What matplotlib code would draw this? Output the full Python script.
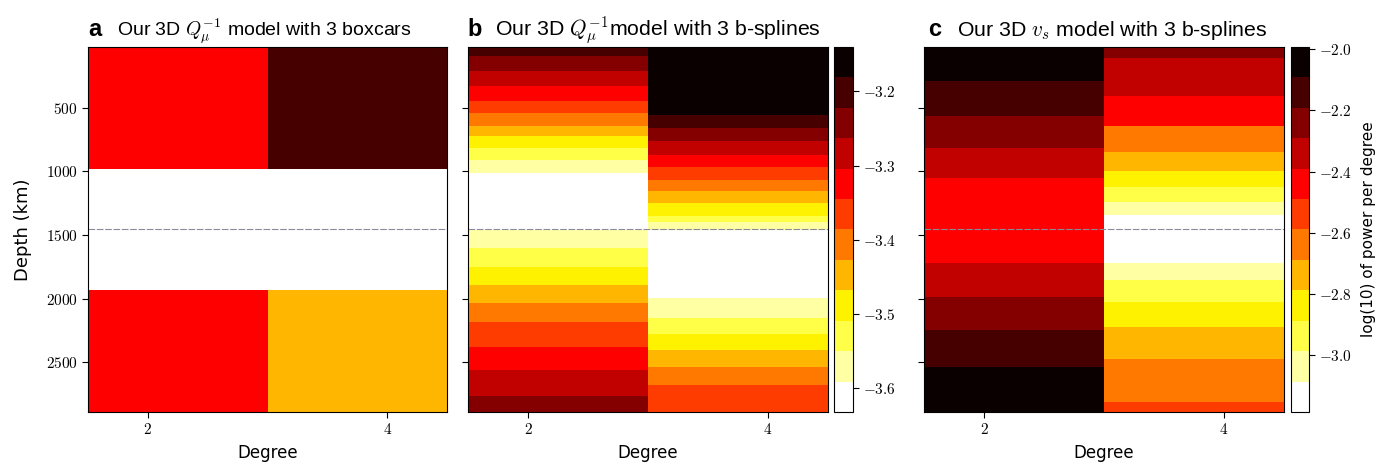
import numpy as np
import matplotlib
matplotlib.use('Agg')
import matplotlib.pyplot as plt
from matplotlib.ticker import FuncFormatter

plt.rcParams['mathtext.fontset'] = 'cm'
plt.rcParams['font.family'] = 'Liberation Sans'

# spherical harmonic degrees shown
degrees = [2, 4]
depth_top = 24
depth_cmb = 2891
depth_ticks = [500, 1000, 1500, 2000, 2500]

# a: Q model, 3 boxcars (log10 power per degree)
a_edges = [24, 980, 1935, 2891]
a_deg2 = [-3.325, -3.612, -3.325]
a_deg4 = [-3.202, -3.612, -3.448]

# b: Q model, 3 b-splines
b_deg2_edges = [24, 97, 215, 334, 446, 543, 648, 727, 819, 911, 1015, 1458,
                1606, 1750, 1894, 2038, 2188, 2379, 2563, 2765, 2891]
b_deg2 = [-3.202, -3.243, -3.284, -3.325, -3.366, -3.407, -3.448, -3.489, -3.530, -3.571,
          -3.612, -3.571, -3.530, -3.489, -3.448, -3.407, -3.366, -3.325, -3.284, -3.243]
b_deg4_edges = [24, 556, 661, 766, 871, 963, 1068, 1152, 1252, 1349, 1401, 1458,
                1999, 2151, 2277, 2408, 2539, 2681, 2891]
b_deg4 = [-3.161, -3.202, -3.243, -3.284, -3.325, -3.366, -3.407, -3.448, -3.489,
          -3.530, -3.571, -3.612, -3.571, -3.530, -3.489, -3.448, -3.407, -3.366]
b_range = (-3.632, -3.140)
b_ticks = [-3.6, -3.5, -3.4, -3.3, -3.2]

# c: vs model, 3 b-splines
c_deg2_edges = [24, 294, 570, 819, 1055, 1724, 1986, 2248, 2537, 2891]
c_deg2 = [-2.043, -2.142, -2.241, -2.341, -2.440, -2.341, -2.241, -2.142, -2.043]
c_deg4_edges = [24, 111, 412, 648, 845, 997, 1120, 1238, 1343, 1724, 1855, 2025,
                2222, 2471, 2812, 2891]
c_deg4 = [-2.241, -2.341, -2.440, -2.639, -2.738, -2.837, -2.937, -3.036, -3.135,
          -3.036, -2.937, -2.837, -2.738, -2.639, -2.539]
c_range = (-3.185, -1.993)
c_ticks = [-3.0, -2.8, -2.6, -2.4, -2.2, -2.0]

cmap = matplotlib.colormaps['hot_r'].resampled(12)
tex_fmt = FuncFormatter(lambda v, p: '$%g$' % v)
tex_fmt1 = FuncFormatter(lambda v, p: '$%.1f$' % v)


def draw_column(ax, deg, edges, vals, vr):
    x = [deg - 1, deg + 1]
    return ax.pcolormesh(x, edges, np.array(vals)[:, None], cmap=cmap,
                         vmin=vr[0], vmax=vr[1])


def setup(ax, letter, title, show_y, dx_letter=0, dx_title=20.5, tsize=14):
    ax.set_xlim(1.5, 4.5)
    ax.set_ylim(depth_cmb, depth_top)
    ax.set_xticks(degrees)
    ax.set_yticks(depth_ticks)
    ax.xaxis.set_major_formatter(tex_fmt)
    ax.yaxis.set_major_formatter(tex_fmt)
    ax.tick_params(labelsize=11, length=4, width=0.8)
    if not show_y:
        ax.tick_params(labelleft=False)
    ax.axhline((depth_top + depth_cmb) / 2, color='#8a8a9a', lw=0.8, ls='--', dashes=(6, 1.5))
    ax.set_xlabel('Degree', fontsize=12, family='DejaVu Sans', labelpad=5)
    ax.annotate(letter, xy=(0, 1), xycoords='axes fraction', xytext=(dx_letter, 7.6),
                textcoords='offset points', fontsize=17, weight='bold',
                ha='left', va='baseline')
    ax.annotate(title, xy=(0, 1), xycoords='axes fraction', xytext=(dx_title, 7.6),
                textcoords='offset points', fontsize=tsize, ha='left', va='baseline')


fig = plt.figure(figsize=(13.89, 4.67), dpi=100)
bottom, height = 0.1178, 0.7816
ax_a = fig.add_axes([0.0634, bottom, 0.2585, height])
ax_b = fig.add_axes([0.3369, bottom, 0.2592, height])
cax_b = fig.add_axes([0.6004, bottom, 0.0137, height])
ax_c = fig.add_axes([0.6652, bottom, 0.2592, height])
cax_c = fig.add_axes([0.9294, bottom, 0.0130, height])

draw_column(ax_a, degrees[0], a_edges, a_deg2, b_range)
draw_column(ax_a, degrees[1], a_edges, a_deg4, b_range)
setup(ax_a, 'a', r'Our 3D $Q_\mu^{-1}$ model with 3 boxcars', True)
ax_a.set_ylabel('Depth (km)', fontsize=13, family='DejaVu Sans', labelpad=10)

mb = draw_column(ax_b, degrees[0], b_deg2_edges, b_deg2, b_range)
draw_column(ax_b, degrees[1], b_deg4_edges, b_deg4, b_range)
setup(ax_b, 'b', r'Our 3D $Q_\mu^{-1}$model with 3 b-splines', False,
      dx_title=19.5, tsize=15.3)

mc = draw_column(ax_c, degrees[0], c_deg2_edges, c_deg2, c_range)
draw_column(ax_c, degrees[1], c_deg4_edges, c_deg4, c_range)
setup(ax_c, 'c', r'Our 3D $v_s$ model with 3 b-splines', False,
      dx_letter=3, dx_title=23.8, tsize=15.3)

cb_b = fig.colorbar(mb, cax=cax_b, ticks=b_ticks, format=tex_fmt1)
cb_c = fig.colorbar(mc, cax=cax_c, ticks=c_ticks, format=tex_fmt1)
for cb in (cb_b, cb_c):
    cb.ax.tick_params(labelsize=11, length=4, width=0.8)
    cb.outline.set_linewidth(0.8)
cb_c.set_label('log(10) of power per degree', fontsize=11, family='DejaVu Sans', labelpad=6)

fig.savefig('out.png', dpi=100)
